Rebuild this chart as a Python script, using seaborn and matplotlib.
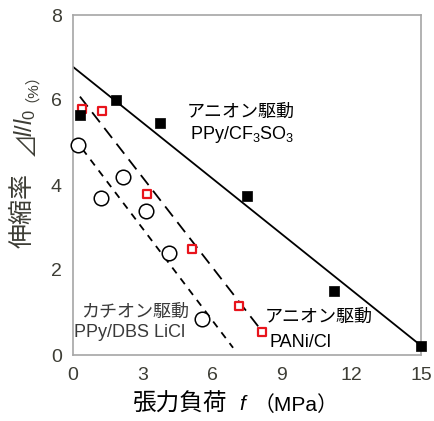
import matplotlib
matplotlib.use("Agg")
import matplotlib.pyplot as plt
import seaborn as sns
import pandas as pd

# Measured points: strain vs. applied tensile stress
ppy_cf3so3_f = [0.3, 1.85, 3.75, 7.5, 11.25, 15.0]
ppy_cf3so3_s = [5.65, 6.0, 5.45, 3.75, 1.5, 0.22]

pani_cl_f = [0.4, 1.25, 3.2, 5.15, 7.15, 8.15]
pani_cl_s = [5.8, 5.75, 3.8, 2.5, 1.15, 0.55]

ppy_dbs_f = [0.2, 1.2, 2.15, 3.15, 4.15, 5.55]
ppy_dbs_s = [4.95, 3.7, 4.2, 3.4, 2.4, 0.85]

# Linear fits drawn through each data set
fit_cf3so3_f = [0.0, 15.0]
fit_cf3so3_s = [6.78, 0.22]
fit_pani_f = [0.3, 8.3]
fit_pani_s = [6.08, 0.45]
fit_dbs_f = [0.4, 6.9]
fit_dbs_s = [4.85, 0.17]

x_ticks = [0, 3, 6, 9, 12, 15]
y_ticks = [0, 2, 4, 6, 8]
y_minor = [1, 3, 5, 7]

sns.set_style("white")
plt.rcParams["font.family"] = ["Liberation Sans", "Noto Sans CJK JP", "DejaVu Sans"]
plt.rcParams["mathtext.fontset"] = "custom"
plt.rcParams["mathtext.rm"] = "Liberation Sans"
plt.rcParams["mathtext.it"] = "Liberation Sans:italic"
plt.rcParams["mathtext.fallback"] = "stixsans"

W, H = 435, 421
fig = plt.figure(figsize=(W / 100, H / 100), dpi=100)
ax = fig.add_axes([73 / W, 1 - 355 / H, (421 - 73) / W, (355 - 15) / H])

tick_col = "#3d3d35"
spine_col = "#a6a6a6"

lines = [
    (fit_cf3so3_f, fit_cf3so3_s, "-", None),
    (fit_pani_f, fit_pani_s, "--", (7, 4)),
    (fit_dbs_f, fit_dbs_s, "--", (4, 3.5)),
]
for fx, fy, ls, dash in lines:
    d = pd.DataFrame({"f": fx, "s": fy})
    sns.lineplot(data=d, x="f", y="s", ax=ax, color="black", linewidth=1.3,
                 linestyle=ls, sort=False)
    if dash is not None:
        ax.lines[-1].set_dashes(dash)

sns.scatterplot(data=pd.DataFrame({"f": ppy_dbs_f, "s": ppy_dbs_s}), x="f", y="s",
                ax=ax, marker="o", s=110, facecolor="white", edgecolor="black",
                linewidth=1.1, zorder=3, clip_on=False)
sns.scatterplot(data=pd.DataFrame({"f": pani_cl_f, "s": pani_cl_s}), x="f", y="s",
                ax=ax, marker="s", s=28, facecolor="white", edgecolor="#e8141c",
                linewidth=1.6, zorder=4, clip_on=False)
sns.scatterplot(data=pd.DataFrame({"f": ppy_cf3so3_f, "s": ppy_cf3so3_s}), x="f", y="s",
                ax=ax, marker="s", s=60, color="black", edgecolor="black",
                linewidth=0.5, zorder=5, clip_on=False)

ax.set_xlim(0, 15)
ax.set_ylim(0, 8)
ax.set_xticks(x_ticks)
ax.set_yticks(y_ticks)
ax.set_yticks(y_minor, minor=True)
ax.set_xlabel("")
ax.set_ylabel("")
for sp in ax.spines.values():
    sp.set_color(spine_col)
    sp.set_linewidth(1.2)
ax.tick_params(axis="both", which="both", direction="in", color=spine_col,
               length=5, width=1, labelsize=14, labelcolor=tick_col)
ax.tick_params(axis="y", pad=8)
ax.tick_params(axis="x", pad=9)
ax.tick_params(top=False, right=False)

# Annotations
ax.text(4.9, 5.7, "アニオン駆動", fontsize=13, color="black", va="center", ha="left")
ax.text(5.05, 5.18, r"PPy/CF$_3$SO$_3$", fontsize=13, color="black", va="center", ha="left")
ax.text(8.25, 0.89, "アニオン駆動", fontsize=13, color="black", va="center", ha="left")
ax.text(8.45, 0.3, "PANi/Cl", fontsize=13, color="black", va="center", ha="left")
ax.text(0.35, 1.01, "カチオン駆動", fontsize=13, color="#3a3a3a", va="center", ha="left")
ax.text(0.05, 0.52, "PPy/DBS LiCl", fontsize=13, color="#3a3a3a", va="center", ha="left")

# Axis titles assembled from pieces (mixed upright / italic text)
lab_col = "#3d3d35"
fig.text(23 / W, 1 - 211 / H, "伸縮率", rotation=90, fontsize=18, color=lab_col,
         ha="center", va="center")
fig.text(25 / W, 1 - 133 / H, r"$⊿l/l_{0}$", rotation=90, fontsize=17, color=lab_col,
         ha="center", va="center")
fig.text(24 / W, 1 - 80 / H, "（%）", rotation=90, fontsize=11, color=lab_col,
         ha="center", va="center")

fig.text(180 / W, 1 - 405 / H, "張力負荷", fontsize=17, color="black", ha="center", va="center")
fig.text(242 / W, 1 - 405 / H, "f", fontsize=15, style="italic", color="black",
         ha="center", va="center")
fig.text(296 / W, 1 - 405 / H, "（MPa）", fontsize=15, color="black", ha="center", va="center")

fig.savefig("out.png", dpi=100, facecolor="white")
